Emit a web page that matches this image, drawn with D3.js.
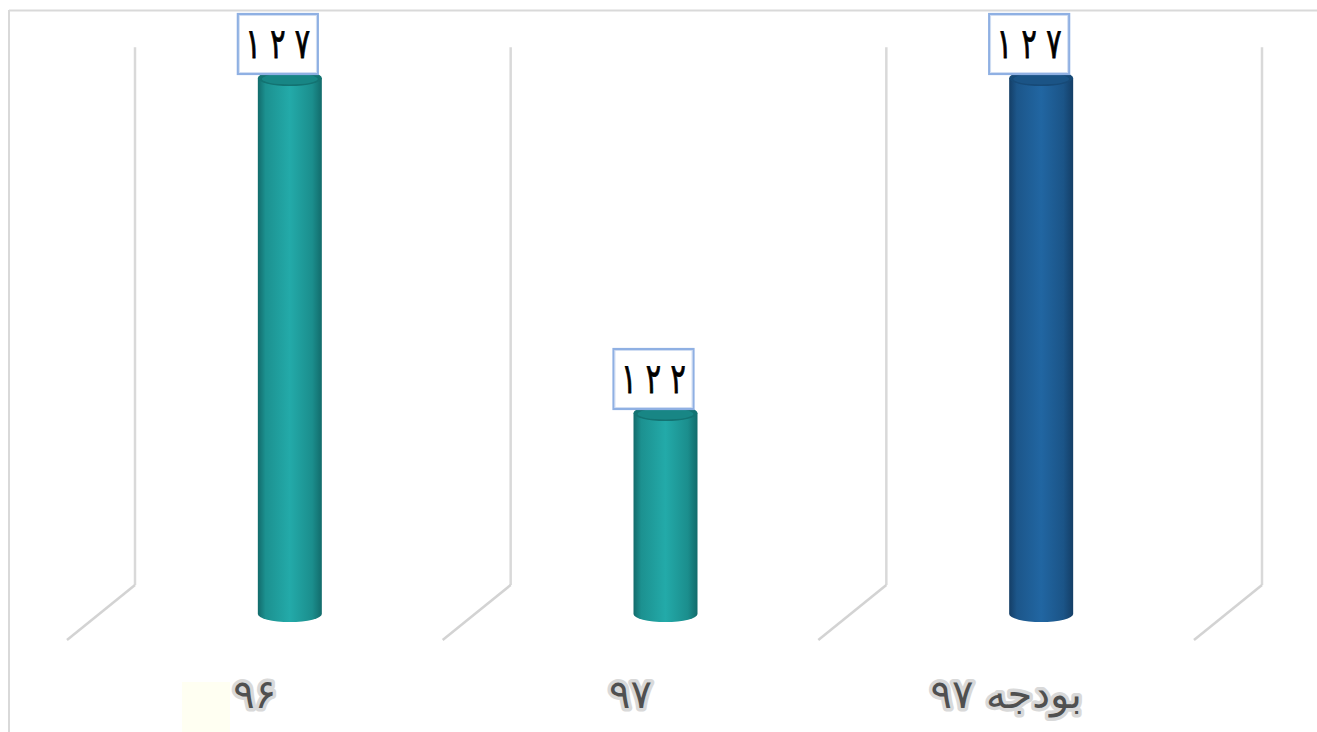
<!DOCTYPE html>
<html><head><meta charset="utf-8">
<script src="https://cdn.jsdelivr.net/npm/d3@7"></script>
<style>html,body{margin:0;padding:0;background:#fff;overflow:hidden}</style>
</head><body>
<svg id="c" width="1317" height="732"></svg>
<script>
const categories = ["۹۶", "۹۷", "بودجه ۹۷"];
const values = [127, 122, 127];
const valueLabels = ["۱۲۷", "۱۲۲", "۱۲۷"];
const barColors = [["#126b6b", "#23aaa9", "#137372"], ["#126b6b", "#23aaa9", "#137372"], ["#143e66", "#2166a2", "#174a77"]];

const svg = d3.select("#c");
const W = 1317, H = 732;

// chart frame
svg.append("line").attr("x1", 9).attr("x2", W).attr("y1", 10.5).attr("y2", 10.5).attr("stroke", "#d9d9d9").attr("stroke-width", 2);
svg.append("line").attr("x1", 9).attr("x2", 9).attr("y1", 10).attr("y2", H).attr("stroke", "#d9d9d9").attr("stroke-width", 2);

// faint artifact
svg.append("rect").attr("x", 182).attr("y", 682).attr("width", 48).attr("height", 50).attr("fill", "#fffff2");

const x = d3.scaleBand().domain(categories).range([135, 1262]).padding(0);
const y = d3.scaleLinear().domain([119, 127]).range([614, 78]);
const depthX = -68, depthY = 55; // back -> front offset
const barShift = -33;              // bar centre relative to back band centre
const rx = 32, ry = 8;

// back-wall category gridlines + floor lines
const bounds = [0, 1, 2, 3].map(i => 135 + i * x.step());
const wallTop = y(127.46), wallBottom = 585;
const g = svg.append("g");
bounds.forEach(b => {
  g.append("line").attr("x1", b).attr("x2", b).attr("y1", wallTop).attr("y2", wallBottom)
    .attr("stroke", "#d9d9d9").attr("stroke-width", 2.5);
  g.append("line").attr("x1", b).attr("x2", b + depthX).attr("y1", wallBottom).attr("y2", wallBottom + depthY)
    .attr("stroke", "#d3d3d3").attr("stroke-width", 2.5);
});

// gradients
const defs = svg.append("defs");
barColors.forEach((c, i) => {
  const gr = defs.append("linearGradient").attr("id", "grad" + i).attr("x1", "0").attr("x2", "1").attr("y1", "0").attr("y2", "0");
  gr.append("stop").attr("offset", "0").attr("stop-color", c[0]);
  gr.append("stop").attr("offset", "0.12").attr("stop-color", d3.interpolateRgb(c[0], c[1])(0.6));
  gr.append("stop").attr("offset", "0.5").attr("stop-color", c[1]);
  gr.append("stop").attr("offset", "0.85").attr("stop-color", d3.interpolateRgb(c[0], c[1])(0.55));
  gr.append("stop").attr("offset", "1").attr("stop-color", c[0]);
});

const bars = svg.append("g");
categories.forEach((cat, i) => {
  const cx = x(cat) + x.bandwidth() / 2 + barShift;
  const top = y(values[i]), bot = y(119);
  const body = `M${cx - rx},${top} L${cx - rx},${bot} A${rx},${ry} 0 0 0 ${cx + rx},${bot} L${cx + rx},${top} Z`;
  bars.append("path").attr("d", body).attr("fill", `url(#grad${i})`);
  bars.append("ellipse").attr("cx", cx).attr("cy", top).attr("rx", rx).attr("ry", ry)
    .attr("fill", barColors[i][2]);
  bars.append("ellipse").attr("cx", cx).attr("cy", top + 1).attr("rx", rx - 4).attr("ry", ry - 2.5)
    .attr("fill", barColors[i][1]).attr("opacity", 0.35);

  // value label box
  const bw = 80, bh = 60, bx = cx - 12 - bw / 2, by = top - 4 - bh;
  bars.append("rect").attr("x", bx).attr("y", by).attr("width", bw).attr("height", bh)
    .attr("fill", "#fff").attr("stroke", "#8fb0e3").attr("stroke-width", 2.2);
  bars.append("rect").attr("x", bx + 1.5).attr("y", by + 1.5).attr("width", bw - 3).attr("height", bh - 3)
    .attr("fill", "none").attr("stroke", "#c9d8f1").attr("stroke-width", 0.8);
  const tx = bx + bw / 2, ty = by + bh / 2 + 14;
  const t = bars.append("text")
    .attr("transform", `translate(${tx},${ty}) scale(0.95,1.4)`)
    .attr("text-anchor", "middle").attr("font-family", "DejaVu Sans, sans-serif")
    .attr("font-size", 30).attr("fill", "#000").attr("stroke", "#000").attr("stroke-width", 0.6)
    .attr("direction", "ltr");
  const chars = Array.from(valueLabels[i]);
  chars.forEach((ch, k) => {
    t.append("tspan").attr("x", (k - (chars.length - 1) / 2) * 26).text(ch);
  });
});

// category labels (front)
const labels = svg.append("g");
categories.forEach((cat, i) => {
  const cx = x(cat) + x.bandwidth() / 2 + depthX;
  labels.append("text").attr("x", cx).attr("y", 708)
    .attr("text-anchor", "middle").attr("font-family", "DejaVu Sans, sans-serif")
    .attr("font-size", 40).attr("fill", "#505050")
    .attr("stroke", "#d9d9d9").attr("stroke-width", 7).attr("stroke-linejoin", "round")
    .attr("paint-order", "stroke").text(cat);
});
</script>
</body></html>
